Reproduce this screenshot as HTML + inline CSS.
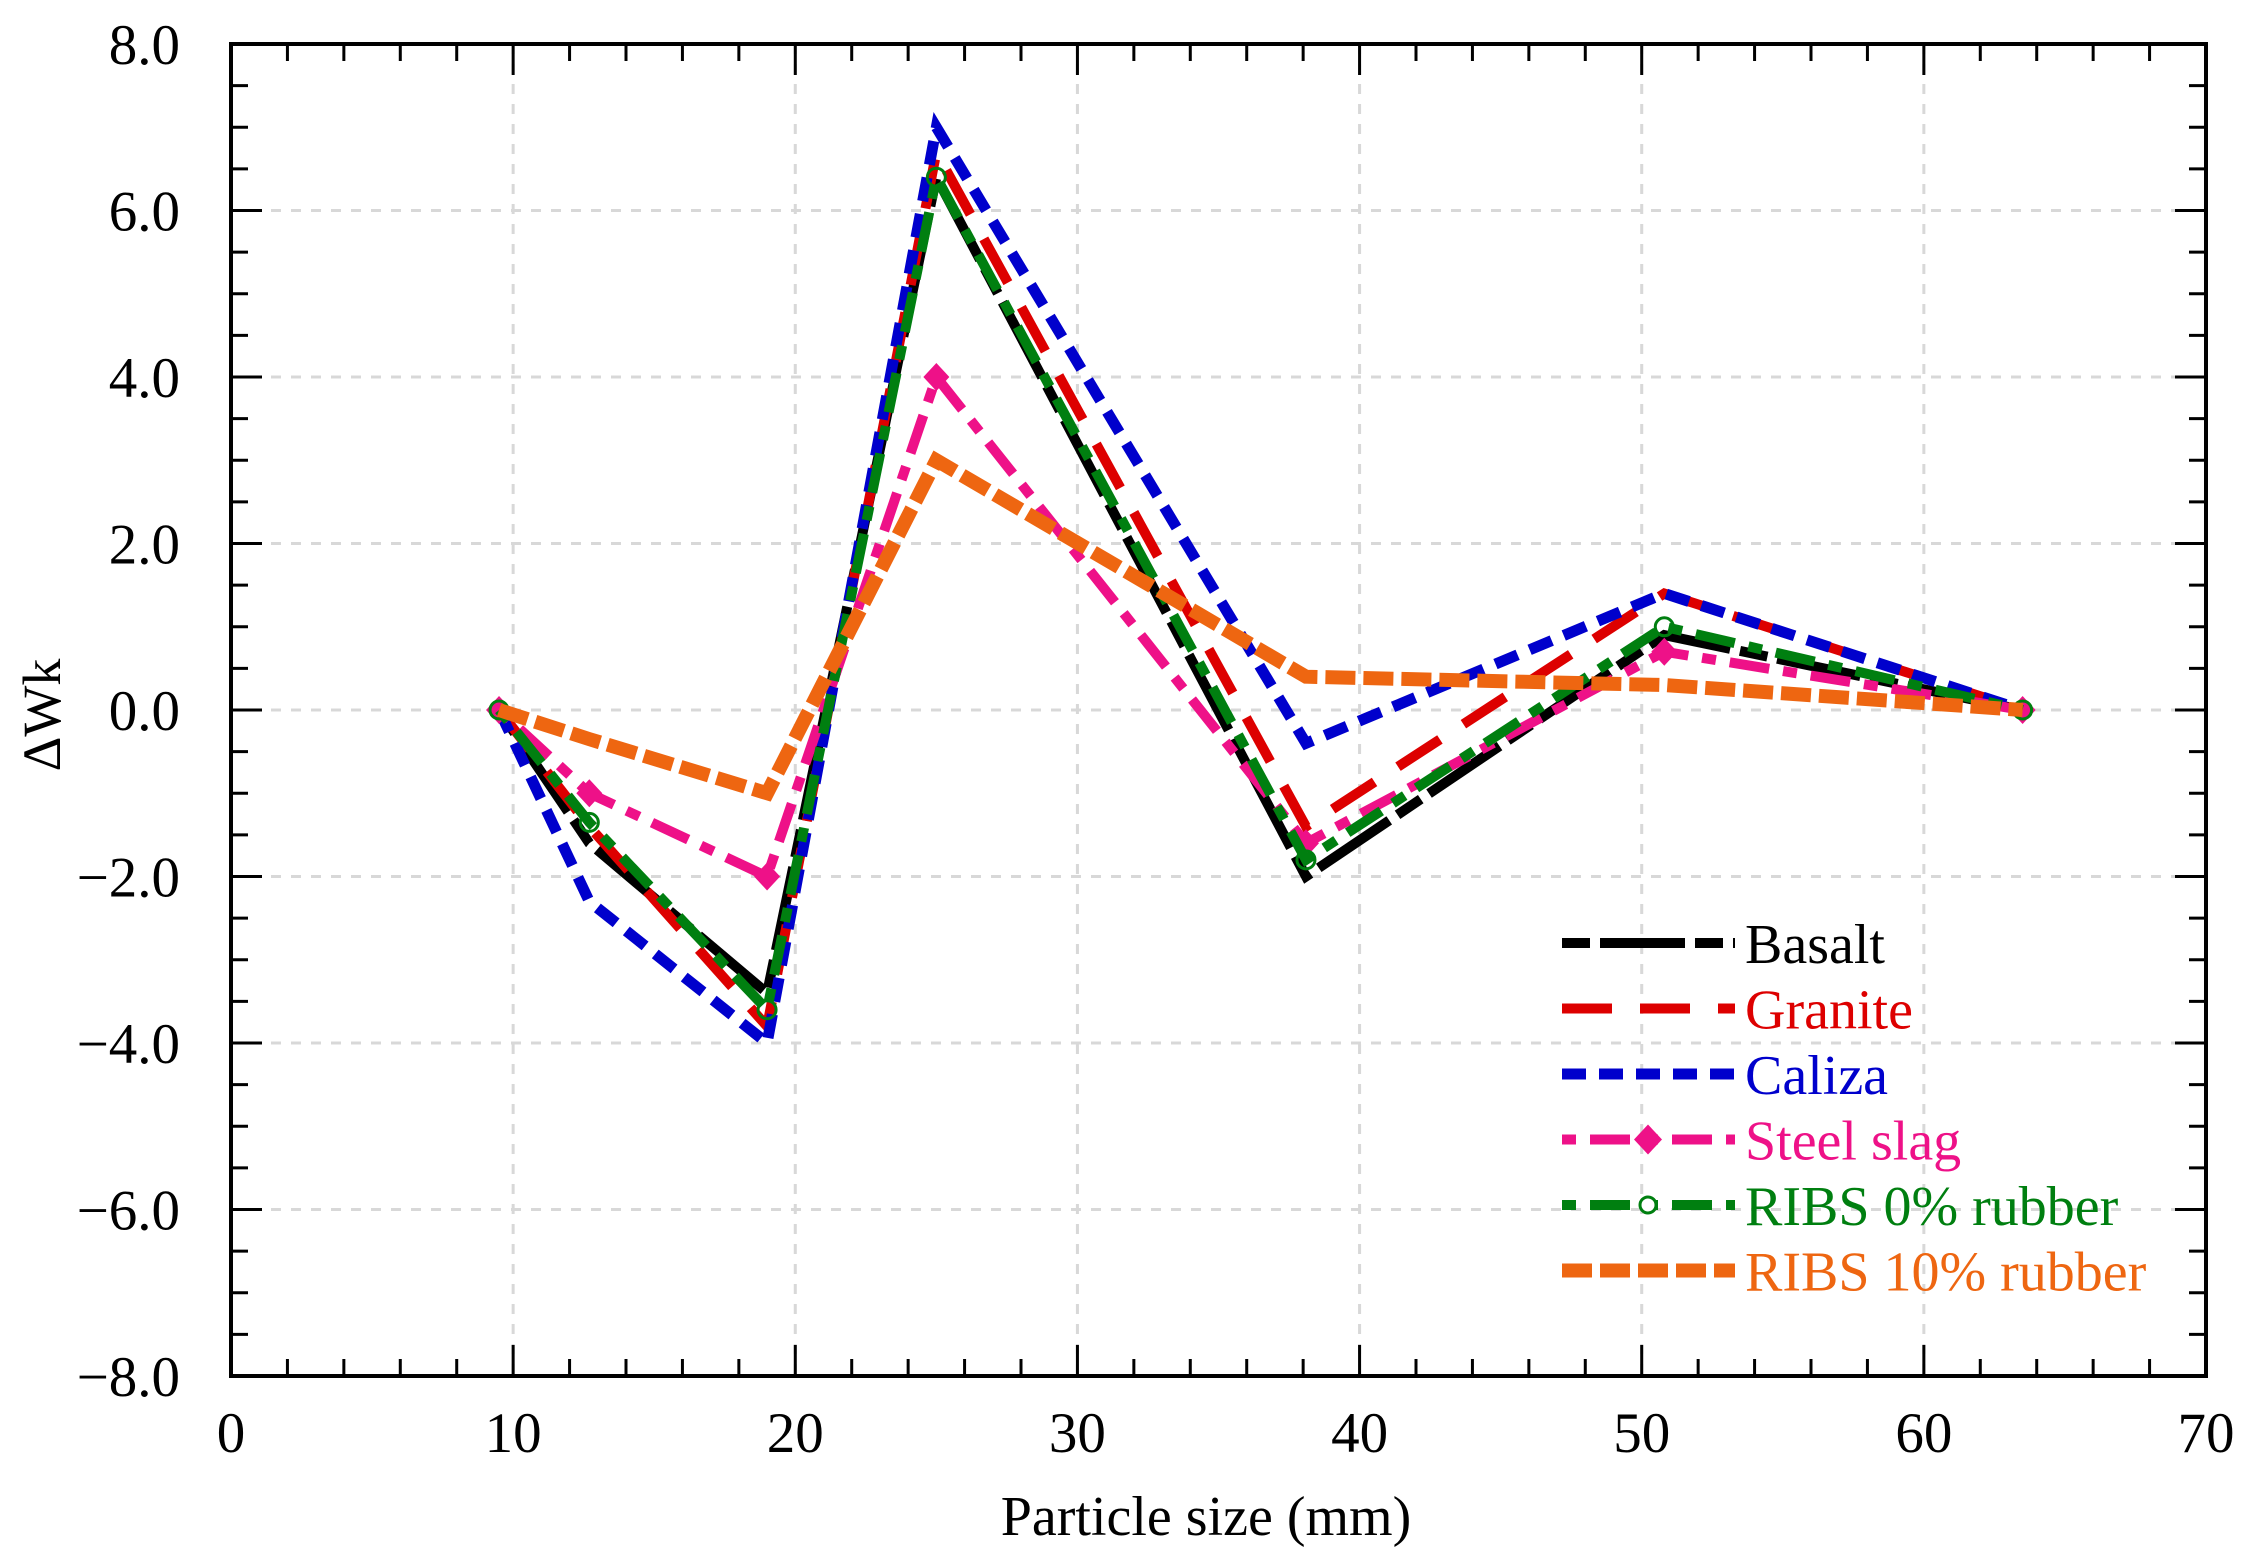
<!DOCTYPE html>
<html><head><meta charset="utf-8"><style>
html,body{margin:0;padding:0;background:#fff;}
svg{display:block;font-family:"Liberation Serif","Times New Roman",serif;}
</style></head><body>
<svg id="chart" width="2246" height="1565" viewBox="0 0 2246 1565" xmlns="http://www.w3.org/2000/svg">
<g id="grid"></g>
<g id="series"></g>
<g id="axes"></g>
<g id="legend"></g>
<text x="1206" y="1535" font-size="56" text-anchor="middle">Particle size (mm)</text>
<text transform="translate(60,715) rotate(-90)" font-size="54" text-anchor="middle">ΔWk</text>
</svg>
<script>
const xValues = [9.5, 12.7, 19.0, 25.0, 38.1, 50.8, 63.5];
const seriesNames = ["Basalt","Granite","Caliza","Steel slag","RIBS 0% rubber","RIBS 10% rubber"];
const basalt = [0, -1.6, -3.4, 6.4, -2.0, 0.9, 0];
const granite = [0, -1.4, -3.8, 6.7, -1.4, 1.4, 0];
const caliza = [0, -2.3, -4.0, 7.0, -0.4, 1.4, 0];
const steelSlag = [0, -1.0, -2.0, 4.0, -1.6, 0.7, 0];
const ribs0 = [0, -1.35, -3.6, 6.4, -1.8, 1.0, 0];
const ribs10 = [0, -0.35, -1.0, 3.0, 0.4, 0.3, 0];
const xTicks = [0,10,20,30,40,50,60,70];
const yTicks = [-8,-6,-4,-2,0,2,4,6,8];
const yTickLabels = ["−8.0","−6.0","−4.0","−2.0","0.0","2.0","4.0","6.0","8.0"];

const NS="http://www.w3.org/2000/svg";
const L=231,R=2206,T=44,B=1376;
const xs=v=>L+(v-0)/70*(R-L);
const ys=v=>B-(v+8)/16*(B-T);
function mk(tag,attrs,parent){const e=document.createElementNS(NS,tag);for(const k in attrs)e.setAttribute(k,attrs[k]);parent.appendChild(e);return e;}
const grid=document.getElementById('grid'),axes=document.getElementById('axes'),ser=document.getElementById('series'),leg=document.getElementById('legend');

xTicks.forEach(t=>{if(t>0&&t<70){const g=mk('line',{x1:xs(t),x2:xs(t),y1:T,y2:B,stroke:'#d8d8d8','stroke-width':3,'stroke-dasharray':'10 10'},grid);

}});
yTicks.forEach(t=>{if(t>-8&&t<8){const g=mk('line',{x1:L,x2:R,y1:ys(t),y2:ys(t),stroke:'#d8d8d8','stroke-width':3,'stroke-dasharray':'10 10'},grid);

}});

const styles=[
 {d:basalt,c:'#000000',w:10,dash:'28 10 85 10'},
 {d:granite,c:'#dd0000',w:10,dash:'50 28'},
 {d:caliza,c:'#0000cc',w:11,dash:'24 13'},
 {d:steelSlag,c:'#ee1188',w:10,dash:'14 14 40 14',m:'diamond'},
 {d:ribs0,c:'#007f10',w:10,dash:'14 14 40 14',m:'circle'},
 {d:ribs10,c:'#ee6611',w:14,dash:'30 8'}
];
const slugs=['basalt','granite','caliza','steel-slag','ribs-0','ribs-10'];
styles.forEach((s,i)=>{
 const pts=s.d.map((v,j)=>xs(xValues[j])+','+ys(v)).join(' ');
 const p=mk('polyline',{points:pts,fill:'none',stroke:s.c,'stroke-width':s.w,'stroke-dasharray':s.dash,'stroke-linejoin':'miter'},ser);
 
 
 if(s.m){s.d.forEach((v,j)=>{const cx=xs(xValues[j]),cy=ys(v);let e;
  if(s.m==='diamond'){e=mk('polygon',{points:`${cx},${cy-14} ${cx+13},${cy} ${cx},${cy+14} ${cx-13},${cy}`,fill:s.c},ser);}
  else{e=mk('circle',{cx:cx,cy:cy,r:9,fill:'none',stroke:s.c,'stroke-width':3},ser);}
  
  });}
});

const fr=mk('rect',{x:L,y:T,width:R-L,height:B-T,fill:'none',stroke:'#000','stroke-width':4},axes);


for(let v=0;v<=70;v+=2){const major=v%10===0;const len=major?31:17;
 mk('line',{x1:xs(v),x2:xs(v),y1:B,y2:B-len,stroke:'#000','stroke-width':3},axes);
 mk('line',{x1:xs(v),x2:xs(v),y1:T,y2:T+len,stroke:'#000','stroke-width':3},axes);}
for(let v=-8;v<=8;v+=0.5){const major=Math.abs(v%2)<1e-9;const len=major?31:17;
 mk('line',{x1:L,x2:L+len,y1:ys(v),y2:ys(v),stroke:'#000','stroke-width':3},axes);
 mk('line',{x1:R,x2:R-len,y1:ys(v),y2:ys(v),stroke:'#000','stroke-width':3},axes);}
xTicks.forEach(t=>{const e=mk('text',{x:xs(t),y:1452,'font-size':57,'text-anchor':'middle'},axes);e.textContent=t;
 
 });
yTicks.forEach((t,i)=>{const e=mk('text',{x:180,y:ys(t)+20,'font-size':57,'text-anchor':'end'},axes);e.textContent=yTickLabels[i];
 
 });

styles.forEach((s,i)=>{const y=943+i*65.5;const g=mk('g',{},leg);
 
 
 mk('line',{x1:1562,x2:1735,y1:y,y2:y,stroke:s.c,'stroke-width':s.w,'stroke-dasharray':s.dash},g);
 if(s.m==='diamond')mk('polygon',{points:`1648,${y-15} 1662,${y} 1648,${y+15} 1634,${y}`,fill:s.c},g);
 if(s.m==='circle')mk('circle',{cx:1648,cy:y,r:8,fill:'#fff',stroke:s.c,'stroke-width':3},g);
 const t=mk('text',{x:1745,y:y+20,'font-size':56,fill:s.c},g);t.textContent=seriesNames[i];});
</script>
</body></html>
